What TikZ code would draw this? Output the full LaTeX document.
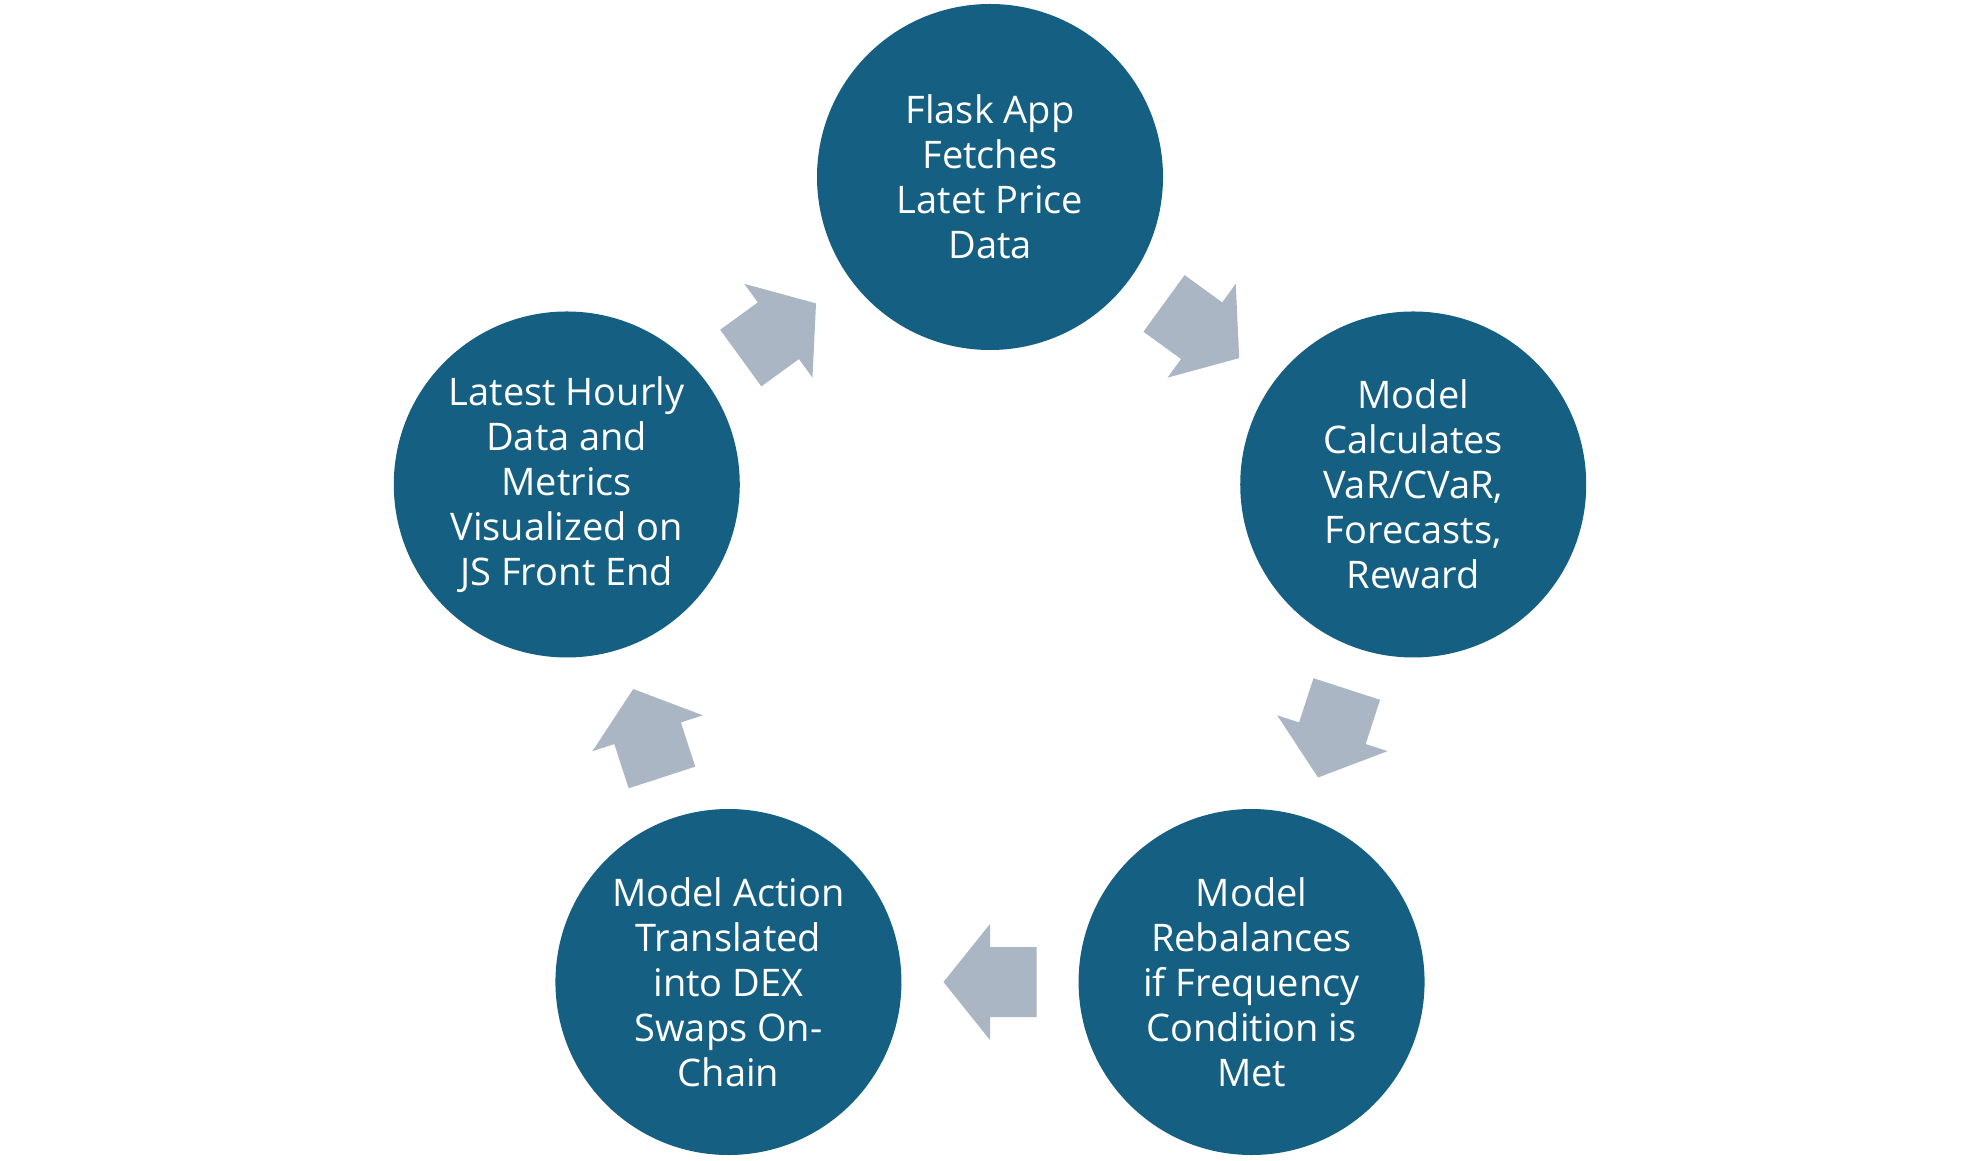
\documentclass[tikz,border=0pt]{standalone}
\usepackage{fontspec}
\setmainfont{Open Sans}
\usetikzlibrary{calc}
\definecolor{circfill}{HTML}{156082}
\definecolor{arrfill}{HTML}{AAB6C3}
\tikzset{
  stage/.style={circle, fill=circfill, draw=none, minimum size=346pt, inner sep=0pt,
    text=white, align=center, font=\fontsize{38}{45}\selectfont},
  blockarrow/.style={fill=arrfill, draw=none}
}
\begin{document}
\begin{tikzpicture}[x=1pt,y=1pt]
\useasboundingbox (0,0) rectangle (1980,1160);
\coordinate (c) at (990,538);
\node[stage] (n1) at ($(c)+(90:445)$) {Flask App\\Fetches\\Latet Price\\Data};
\node[stage] (n2) at ($(c)+(18:445)$) {Model\\Calculates\\VaR/CVaR,\\Forecasts,\\Reward};
\node[stage] (n3) at ($(c)+(-54:445)$) {Model\\Rebalances\\if Frequency\\Condition is\\Met};
\node[stage] (n4) at ($(c)+(-126:445)$) {Model Action\\Translated\\into DEX\\Swaps On-\\Chain};
\node[stage] (n5) at ($(c)+(162:445)$) {Latest Hourly\\Data and\\Metrics\\Visualized on\\JS Front End};
\coordinate (m12) at ($(n1)!0.5!(n2)$);
\coordinate (m23) at ($(n2)!0.5!(n3)$);
\coordinate (m34) at ($(n3)!0.5!(n4)$);
\coordinate (m45) at ($(n4)!0.5!(n5)$);
\coordinate (m51) at ($(n5)!0.5!(n1)$);
\foreach \m/\a in {m12/-36, m23/-108, m34/180, m45/108, m51/36}{
  \fill[blockarrow, shift={(\m)}, rotate=\a]
    (-46.5,-35) -- (0,-35) -- (0,-58) -- (46.5,0) -- (0,58) -- (0,35) -- (-46.5,35) -- cycle;
}
\end{tikzpicture}
\end{document}
